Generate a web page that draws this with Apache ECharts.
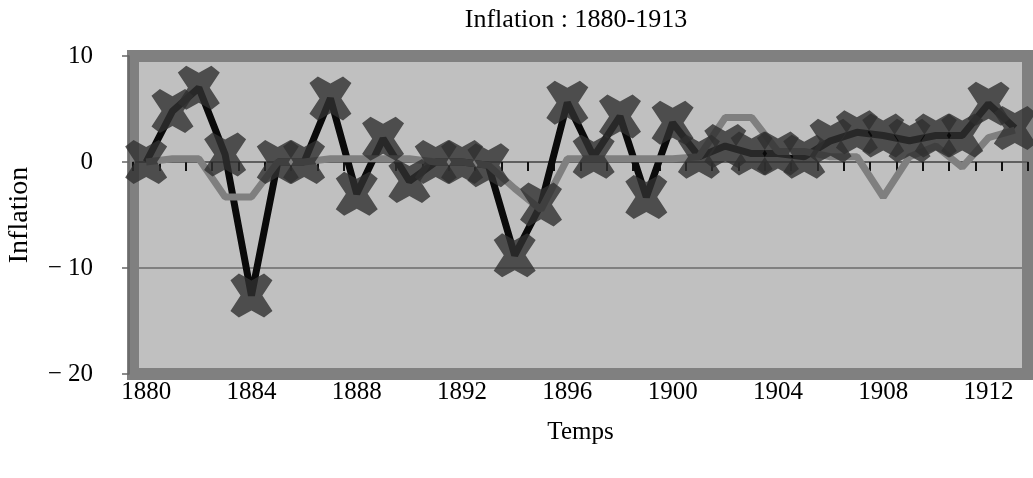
<!DOCTYPE html>
<html>
<head>
<meta charset="utf-8">
<script src="https://cdn.jsdelivr.net/npm/echarts@6/dist/echarts.min.js"></script>
<style>
html,body{margin:0;padding:0;background:#fff;}
#chart{width:1033px;height:478px;}
</style>
</head>
<body>
<div id="chart"></div>
<script>
const years = ['1880','1881','1882','1883','1884','1885','1886','1887','1888','1889',
  '1890','1891','1892','1893','1894','1895','1896','1897','1898','1899',
  '1900','1901','1902','1903','1904','1905','1906','1907','1908','1909',
  '1910','1911','1912','1913'];
const inflationBlack = [0, 4.8, 7, 0.7, -12.6, 0, 0, 6, -3, 2.2,
  -1.8, 0, 0, -0.3, -8.8, -4, 5.6, 0.5, 4.3, -3.3,
  3.7, 0.5, 1.5, 0.8, 0.8, 0.5, 2, 2.8, 2.5, 2,
  2.5, 2.5, 5.5, 3.2];
const inflationGray = [0, 0.3, 0.3, -3.3, -3.3, 0, 0, 0.3, 0.3, 0.3,
  0.3, 0, 0, -0.3, -2.5, -4.5, 0.3, 0.3, 0.3, 0.3,
  0.3, 0.5, 4.2, 4.2, 1, 1, 0.5, 0.5, -3.3, 0.5,
  1.5, -0.5, 2.3, 3];

const font = '"Liberation Serif","Times New Roman",serif';
const xSymbol = 'path://M0,15 L20,0 L50,16 L80,0 L100,15 L76,50 L100,85 L80,100 L50,84 L20,100 L0,85 L24,50 Z';

const chart = echarts.init(document.getElementById('chart'), null, {renderer: 'canvas'});
chart.setOption({
  animation: false,
  backgroundColor: '#ffffff',
  title: {
    text: 'Inflation : 1880-1913',
    left: 571, top: 2, textAlign: 'center',
    textStyle: {fontFamily: font, fontSize: 26, fontWeight: 'normal', color: '#000'}
  },
  grid: {
    left: 133, top: 56, width: 895, height: 318,
    containLabel: false, outerBoundsMode: 'none',
    show: true, backgroundColor: '#c0c0c0', borderColor: '#808080', borderWidth: 12
  },
  xAxis: [{
    type: 'category', data: years, boundaryGap: true, position: 'bottom',
    axisLine: {show: false, onZero: false},
    axisTick: {show: false},
    axisLabel: {interval: 3, margin: 6, fontFamily: font, fontSize: 25, color: '#000'},
    name: 'Temps', nameLocation: 'middle', nameGap: 46,
    nameTextStyle: {fontFamily: font, fontSize: 25, color: '#000'},
    splitLine: {show: false}
  }, {
    type: 'category', data: years, boundaryGap: true, position: 'top',
    axisLine: {show: true, onZero: true, lineStyle: {color: '#555', width: 1.5}},
    axisTick: {show: true, inside: true, length: 9, interval: 0, lineStyle: {color: '#111', width: 2}},
    axisLabel: {show: false},
    splitLine: {show: false}
  }],
  yAxis: {
    type: 'value', min: -20, max: 10, interval: 10, offset: 4,
    axisLine: {show: true, lineStyle: {color: '#666', width: 1.5}},
    axisTick: {show: true, length: 7, lineStyle: {color: '#666', width: 1.5}},
    axisLabel: {
      margin: 36, fontFamily: font, fontSize: 25, color: '#000',
      formatter: v => (v < 0 ? '\u2212 ' + Math.abs(v) : String(v))
    },
    splitLine: {show: true, lineStyle: {color: '#808080', width: 2}},
    name: 'Inflation', nameLocation: 'middle', nameGap: 95, nameRotate: 90,
    nameTextStyle: {fontFamily: font, fontSize: 28, color: '#000'}
  },
  series: [{
    name: 'black', type: 'line', data: inflationBlack, xAxisIndex: 0,
    showSymbol: false, symbol: 'none', z: 2,
    lineStyle: {color: '#0a0a0a', width: 7}
  }, {
    name: 'gray', type: 'line', data: inflationGray, xAxisIndex: 0,
    showSymbol: false, symbol: 'none', z: 3,
    lineStyle: {color: '#7f7f7f', width: 7}
  }, {
    name: 'markers', type: 'scatter', data: inflationBlack, xAxisIndex: 0,
    symbol: xSymbol, symbolSize: [42, 44], z: 4,
    itemStyle: {color: '#303030'}
  }]
});
</script>
</body>
</html>
